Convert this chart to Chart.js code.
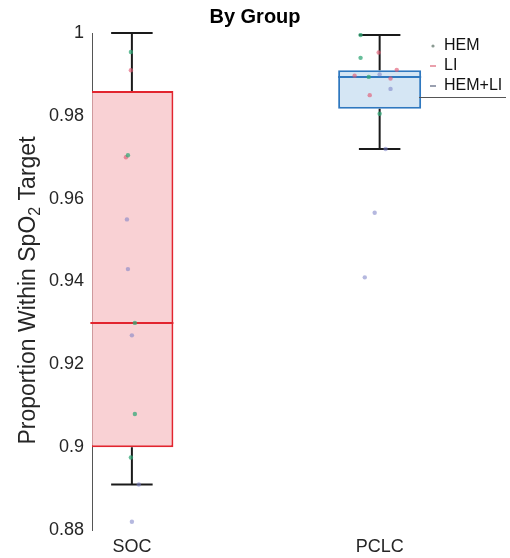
<!DOCTYPE html>
<html>
<head>
<meta charset="utf-8">
<script src="https://cdn.jsdelivr.net/npm/chart.js@4"></script>
<style>
  html, body { margin: 0; padding: 0; background: #fff; }
  #wrap { width: 510px; height: 558px; }
</style>
</head>
<body>
<div id="wrap"><canvas id="boxChart" width="510" height="558"></canvas></div>
<script>
// Groups and box statistics
const categories = ['SOC', 'PCLC'];
const q1 = [0.900, 0.9817];
const medians = [0.930, 0.9894];
const q3 = [0.986, 0.991];
const whiskerLow = [0.891, 0.972];
const whiskerHigh = [1.000, 0.9995];

// Individual subjects, by intervention (x holds the jittered group position)
const hemX = [0.996, 1.012, 1.012, 0.996, 0.984, 1.923, 1.923, 1.956, 2.000];
const hemY = [0.9954, 0.930, 0.908, 0.8975, 0.9705, 0.9995, 0.994, 0.9894, 0.9805];
const liX = [0.996, 0.976, 1.996, 1.899, 2.069, 2.044, 1.960];
const liY = [0.991, 0.970, 0.9953, 0.9897, 0.9911, 0.989, 0.985];
const bothX = [0.980, 0.984, 1.000, 1.028, 1.000, 2.000, 2.044, 2.024, 1.980, 1.940];
const bothY = [0.955, 0.943, 0.927, 0.891, 0.882, 0.990, 0.9865, 0.972, 0.9566, 0.941];

const yTicks = [0.88, 0.90, 0.92, 0.94, 0.96, 0.98, 1.00];
const xTicks = [1, 2];

const edgeColors = ['#e2252f', '#2f78bf'];
const fillColors = ['#f9d1d4', '#d5e6f4'];

const toPoints = (xs, ys) => xs.map((x, i) => ({ x: x, y: ys[i] }));

// whiskers, caps and median drawn on top of the box bars
const boxExtras = {
    id: 'boxExtras',
    afterDatasetDraw(chart, args) {
        if (args.index !== 0) return;
        const { ctx, scales: { x, y } } = chart;
        const bars = chart.getDatasetMeta(0).data;
        ctx.save();
        categories.forEach((c, i) => {
            const cx = x.getPixelForValue(i + 1);
            const half = bars[i].width / 2;
            ctx.lineWidth = 2;
            ctx.strokeStyle = '#1a1a1a';
            ctx.beginPath();
            ctx.moveTo(cx, y.getPixelForValue(q3[i]));
            ctx.lineTo(cx, y.getPixelForValue(whiskerHigh[i]));
            ctx.moveTo(cx, y.getPixelForValue(q1[i]));
            ctx.lineTo(cx, y.getPixelForValue(whiskerLow[i]));
            [whiskerHigh[i], whiskerLow[i]].forEach(v => {
                const py = y.getPixelForValue(v);
                ctx.moveTo(cx - half / 2, py);
                ctx.lineTo(cx + half / 2, py);
            });
            ctx.stroke();
            ctx.strokeStyle = edgeColors[i];
            ctx.beginPath();
            const my = y.getPixelForValue(medians[i]);
            ctx.moveTo(cx - half, my);
            ctx.lineTo(cx + half, my);
            ctx.stroke();
        });
        ctx.restore();
    }
};

// rotated y label with a real subscript, plus the small legend box
const decorations = {
    id: 'decorations',
    afterDraw(chart) {
        const { ctx, chartArea } = chart;
        ctx.save();
        // y axis title
        const big = '23px "Liberation Sans", Arial, sans-serif';
        const small = '16px "Liberation Sans", Arial, sans-serif';
        const parts = [['Proportion Within SpO', big, 0], ['2', small, 7], [' Target', big, 0]];
        let total = 0;
        parts.forEach(p => { ctx.font = p[1]; total += ctx.measureText(p[0]).width; });
        ctx.translate(29, (chartArea.top + chartArea.bottom) / 2 + 9);
        ctx.rotate(-Math.PI / 2);
        ctx.fillStyle = '#262626';
        ctx.textBaseline = 'middle';
        ctx.textAlign = 'left';
        let px = -total / 2;
        parts.forEach(p => {
            ctx.font = p[1];
            ctx.fillText(p[0], px, p[2]);
            px += ctx.measureText(p[0]).width;
        });
        ctx.restore();

        // legend
        ctx.save();
        const right = chartArea.right;
        const legendSets = chart.data.datasets.slice(1);
        ctx.font = '16px "Liberation Sans", Arial, sans-serif';
        ctx.textBaseline = 'middle';
        legendSets.forEach((ds, i) => {
            const ly = chartArea.top + 13 + i * 20;
            ctx.fillStyle = ds.legendMark;
            if (i === 0) {
                ctx.beginPath();
                ctx.arc(right - 73, ly, 1.6, 0, Math.PI * 2);
                ctx.fill();
            } else {
                ctx.fillRect(right - 76, ly - 1, 6, 2);
            }
            ctx.fillStyle = '#111';
            ctx.fillText(ds.label, right - 62, ly);
        });
        ctx.strokeStyle = '#555';
        ctx.lineWidth = 1;
        ctx.beginPath();
        ctx.moveTo(right - 87, chartArea.top + 64.5);
        ctx.lineTo(right, chartArea.top + 64.5);
        ctx.stroke();
        ctx.restore();
    }
};

new Chart(document.getElementById('boxChart'), {
    type: 'bar',
    data: {
        datasets: [{
            label: 'Box',
            data: categories.map((c, i) => ({ x: i + 1, y: [q1[i], q3[i]] })),
            backgroundColor: fillColors,
            borderColor: edgeColors,
            borderWidth: 2,
            borderSkipped: false,
            barPercentage: 1,
            categoryPercentage: 0.335,
            order: 2
        }, {
            type: 'scatter',
            label: 'HEM',
            data: toPoints(hemX, hemY),
            pointBackgroundColor: 'rgba(52, 168, 120, 0.75)',
            pointBorderWidth: 0,
            pointRadius: 2.2,
            legendMark: '#8a9a92',
            order: 1
        }, {
            type: 'scatter',
            label: 'LI',
            data: toPoints(liX, liY),
            pointBackgroundColor: 'rgba(226, 92, 116, 0.65)',
            pointBorderWidth: 0,
            pointRadius: 2.2,
            legendMark: '#eaa0ac',
            order: 1
        }, {
            type: 'scatter',
            label: 'HEM+LI',
            data: toPoints(bothX, bothY),
            pointBackgroundColor: 'rgba(120, 126, 196, 0.55)',
            pointBorderWidth: 0,
            pointRadius: 2.2,
            legendMark: '#9aa0b0',
            order: 1
        }]
    },
    options: {
        responsive: false,
        animation: false,
        devicePixelRatio: 1,
        layout: { padding: { left: 0, right: 0, top: 0, bottom: 0 } },
        plugins: {
            legend: { display: false },
            tooltip: { enabled: false },
            title: {
                display: true,
                text: 'By Group',
                color: '#000',
                font: { family: '"Liberation Sans", Arial, sans-serif', size: 20, weight: 'bold' },
                padding: { top: 5, bottom: 4 }
            }
        },
        scales: {
            x: {
                type: 'linear',
                offset: false,
                min: 0.839,
                max: 2.51,
                grid: { display: false, drawTicks: false },
                border: { display: false },
                afterBuildTicks: axis => { axis.ticks = xTicks.map(v => ({ value: v })); },
                afterFit: axis => { axis.height = 28; },
                ticks: {
                    padding: 6,
                    color: '#262626',
                    font: { family: '"Liberation Sans", Arial, sans-serif', size: 18 },
                    callback: v => categories[v - 1]
                }
            },
            y: {
                min: 0.88,
                max: 1.0,
                grid: { display: false, drawTicks: false },
                border: { display: true, color: '#555', width: 1 },
                afterBuildTicks: axis => { axis.ticks = yTicks.map(v => ({ value: v })); },
                afterFit: axis => { axis.width = 92; },
                ticks: {
                    padding: 8,
                    color: '#262626',
                    font: { family: '"Liberation Sans", Arial, sans-serif', size: 18 },
                    callback: v => String(+v.toFixed(2))
                }
            }
        }
    },
    plugins: [boxExtras, decorations]
});
</script>
</body>
</html>
